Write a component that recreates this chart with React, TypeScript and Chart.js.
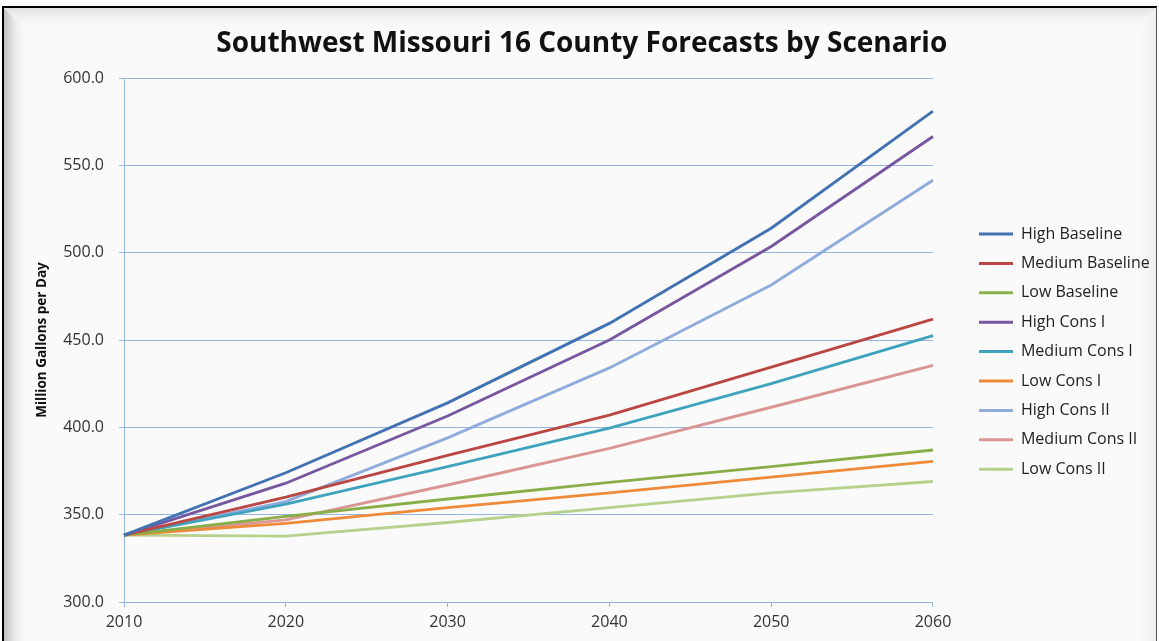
import React, { useEffect, useRef } from "react";
import { Chart, registerables } from "chart.js";

Chart.register(...registerables);

const years = ["2010", "2020", "2030", "2040", "2050", "2060"];
const yTicks = [300, 350, 400, 450, 500, 550, 600];

const highBaseline = [338.3, 374, 414, 459.5, 514, 581];
const mediumBaseline = [338.3, 360, 384, 407, 434.5, 462];
const lowBaseline = [338.3, 349, 359, 368.5, 377.5, 387];
const highConsI = [338.3, 368, 406.5, 450, 503.5, 566.5];
const mediumConsI = [338.3, 356, 377.5, 399.5, 425, 452.5];
const lowConsI = [338.3, 345, 354, 362.5, 371.5, 380.5];
const highConsII = [338.3, 357.5, 394, 434, 481.5, 541.5];
const mediumConsII = [338.3, 347, 367, 388, 411.5, 435.5];
const lowConsII = [338.3, 337.7, 345.5, 354, 362.5, 369];

const seriesNames = [
  "High Baseline",
  "Medium Baseline",
  "Low Baseline",
  "High Cons I",
  "Medium Cons I",
  "Low Cons I",
  "High Cons II",
  "Medium Cons II",
  "Low Cons II",
];
const seriesValues = [
  highBaseline,
  mediumBaseline,
  lowBaseline,
  highConsI,
  mediumConsI,
  lowConsI,
  highConsII,
  mediumConsII,
  lowConsII,
];
const seriesColors = [
  "#4372B2",
  "#BA4744",
  "#88AE47",
  "#7657A0",
  "#40A3BE",
  "#EE8A38",
  "#90ABDC",
  "#DA9694",
  "#B5D18B",
];

const framePlugin = {
  id: "frame",
  beforeDraw(chart: any) {
    const { ctx, width, height } = chart;
    ctx.save();
    ctx.fillStyle = "#ffffff";
    ctx.fillRect(0, 0, width, height);
    const x0 = 4, y0 = 8, x1 = width - 3, y1 = height;
    const b = 24;
    ctx.fillStyle = "#fafafa";
    ctx.fillRect(x0, y0, x1 - x0, y1 - y0);
    let g = ctx.createLinearGradient(x0, 0, x0 + b, 0);
    g.addColorStop(0, "#c0c0c0");
    g.addColorStop(1, "rgba(250,250,250,0)");
    ctx.fillStyle = g;
    ctx.beginPath();
    ctx.moveTo(x0, y0);
    ctx.lineTo(x0 + b, y0 + b);
    ctx.lineTo(x0 + b, y1);
    ctx.lineTo(x0, y1);
    ctx.closePath();
    ctx.fill();
    g = ctx.createLinearGradient(0, y0, 0, y0 + b);
    g.addColorStop(0, "#e2e2e2");
    g.addColorStop(1, "rgba(250,250,250,0)");
    ctx.fillStyle = g;
    ctx.beginPath();
    ctx.moveTo(x0, y0);
    ctx.lineTo(x1, y0);
    ctx.lineTo(x1 - b, y0 + b);
    ctx.lineTo(x0 + b, y0 + b);
    ctx.closePath();
    ctx.fill();
    g = ctx.createLinearGradient(x1, 0, x1 - b, 0);
    g.addColorStop(0, "#ececec");
    g.addColorStop(1, "rgba(250,250,250,0)");
    ctx.fillStyle = g;
    ctx.beginPath();
    ctx.moveTo(x1, y0);
    ctx.lineTo(x1, y1);
    ctx.lineTo(x1 - b, y1);
    ctx.lineTo(x1 - b, y0 + b);
    ctx.closePath();
    ctx.fill();
    ctx.strokeStyle = "#000000";
    ctx.lineWidth = 2;
    ctx.beginPath();
    ctx.moveTo(3, height);
    ctx.lineTo(3, 7);
    ctx.lineTo(width - 2, 7);
    ctx.stroke();
    ctx.lineWidth = 1;
    ctx.strokeStyle = "#555555";
    ctx.beginPath();
    ctx.moveTo(width - 2.5, 7);
    ctx.lineTo(width - 2.5, height);
    ctx.stroke();
    ctx.restore();
  },
};

export default function App() {
  const ref = useRef<HTMLCanvasElement | null>(null);

  useEffect(() => {
    document.body.style.margin = "0";
    const canvas = ref.current;
    if (!canvas) return;
    Chart.defaults.font.family = "'Open Sans', sans-serif";
    const gridBlue = "#95B5DF";
    const chart = new Chart(canvas, {
      type: "line",
      data: {
        labels: years,
        datasets: seriesNames.map((name, i) => ({
          label: name,
          data: seriesValues[i],
          borderColor: seriesColors[i],
          backgroundColor: seriesColors[i],
          borderWidth: 2.9,
          pointRadius: 0,
          pointHoverRadius: 0,
          tension: 0,
          fill: false,
        })),
      },
      options: {
        animation: false,
        responsive: false,
        events: [],
        layout: { padding: { left: 6, right: 1.5, top: 0, bottom: 9 } },
        plugins: {
          tooltip: { enabled: false },
          title: {
            display: true,
            text: "Southwest Missouri 16 County Forecasts by Scenario",
            color: "#111111",
            font: { size: 28, weight: "bold" },
            padding: { top: 27.5, bottom: 16.9 },
          },
          legend: {
            position: "right",
            fullSize: false,
            title: { display: true, text: "", padding: { top: 0, bottom: 8.8 }, font: { size: 12 } },
            labels: {
              boxWidth: 34,
              boxHeight: 3,
              padding: 13.4,
              color: "#222222",
              font: { size: 16 },
              generateLabels: (c: any) =>
                Chart.defaults.plugins.legend.labels
                  .generateLabels(c)
                  .map((l: any) => ({ ...l, lineWidth: 0 })),
            },
          },
        },
        scales: {
          x: {
            type: "category",
            offset: false,
            grid: {
              display: true,
              drawOnChartArea: false,
              drawTicks: true,
              tickLength: 5,
              color: gridBlue,
            },
            border: { display: true, color: gridBlue, width: 1 },
            ticks: { color: "#333333", font: { size: 16 }, padding: 6, maxRotation: 0 },
            afterFit: (s: any) => {
              s.height = 30;
            },
          },
          y: {
            type: "linear",
            position: "left",
            min: 300,
            max: 600,
            afterBuildTicks: (s: any) => {
              s.ticks = yTicks.map((v) => ({ value: v }));
            },
            grid: { color: gridBlue, tickLength: 5, drawTicks: true },
            border: { display: true, color: gridBlue, width: 1 },
            ticks: {
              color: "#333333",
              font: { size: 16 },
              padding: 15,
              callback: (v: any) => Number(v).toFixed(1),
            },
            title: {
              display: true,
              text: "Million Gallons per Day",
              color: "#111111",
              font: { size: 13.5, weight: "bold" },
              padding: { top: 28, bottom: 0 },
            },
            afterFit: (s: any) => {
              s.width = 118;
            },
          },
          gap: {
            type: "linear",
            axis: "y",
            position: "right",
            display: true,
            grid: { display: false, drawOnChartArea: false, drawTicks: false },
            border: { display: false },
            ticks: { display: false },
            afterFit: (s: any) => {
              s.width = 32.6;
            },
          },
        },
      },
      plugins: [framePlugin],
    } as any);
    return () => chart.destroy();
  }, []);

  return (
    <div style={{ width: 1159, height: 641 }}>
      <canvas ref={ref} width={1159} height={641} style={{ display: "block" }} />
    </div>
  );
}
